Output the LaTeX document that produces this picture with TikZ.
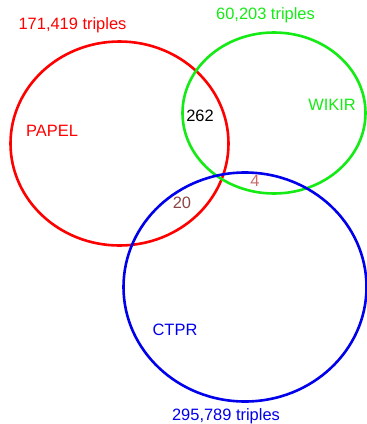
\documentclass[tikz,border=0pt]{standalone}
\usepackage{fontspec}
\setmainfont{Liberation Sans}
\definecolor{papelred}{RGB}{255,0,0}
\definecolor{wikirgreen}{RGB}{20,235,20}
\definecolor{ctprblue}{RGB}{0,0,235}
\definecolor{fourcol}{RGB}{205,105,105}
\definecolor{twentycol}{RGB}{140,70,70}

\begin{document}
\begin{tikzpicture}[x=1bp, y=-1bp,
    set/.style={line width=2.6bp},
    lbl/.style={inner sep=0pt, font=\fontsize{16.5}{18}\selectfont}]
            \useasboundingbox (0,0) rectangle (367,424);
            % the three sets
            \draw[set, papelred] (119.5,143.5) ellipse [x radius=109, y radius=102];
            \draw[set, wikirgreen] (274,113) ellipse [x radius=91.5, y radius=80.5];
            \draw[set, ctprblue] (245,287) ellipse [x radius=121.5, y radius=114.5];
            % set names
            \node[lbl, papelred] (papel) at (52,131) {PAPEL};
            \node[lbl, wikirgreen] (wikir) at (332,105) {WIKIR};
            \node[lbl, ctprblue] (ctpr) at (175,330) {CTPR};
            % sizes
            \node[lbl, papelred] (papelsize) at (72.5,25) {171,419 triples};
            \node[lbl, wikirgreen] (wikirsize) at (265.5,15) {60,203 triples};
            \node[lbl, ctprblue] (ctprsize) at (226,416) {295,789 triples};
            % overlaps
            \node[lbl] (pw) at (200,116) {262};
            \node[lbl, twentycol] (pc) at (182,202.5) {20};
            \node[lbl, fourcol] (wc) at (255,180.5) {4};
\end{tikzpicture}
\end{document}
